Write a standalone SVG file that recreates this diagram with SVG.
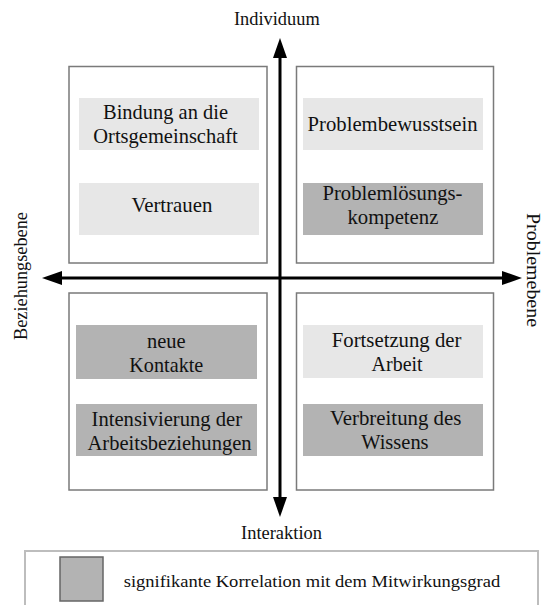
<svg xmlns="http://www.w3.org/2000/svg" width="542" height="605" viewBox="0 0 542 605">
<style>
.quad{fill:#ffffff;stroke:#7a7a7a;stroke-width:1.5}
.light{fill:#e7e7e7}
.dark{fill:#b3b3b3}
.t{font-family:'Liberation Serif','DejaVu Serif','Times New Roman',serif;font-size:21px;fill:#111111}
.ax{font-family:'Liberation Serif','DejaVu Serif','Times New Roman',serif;font-size:18px;fill:#111111}
.lg{font-family:'Liberation Serif','DejaVu Serif','Times New Roman',serif;font-size:17px;fill:#111111}
.axis{stroke:#000000;stroke-width:3;fill:none}
</style>
<defs>
<marker id="arr" viewBox="0 0 20 14" markerWidth="20" markerHeight="14" refX="13" refY="7" orient="auto-start-reverse" markerUnits="userSpaceOnUse">
<path d="M0,0 L20,7 L0,14 z" fill="#000000"/>
</marker>
</defs>
<rect width="542" height="605" fill="#ffffff"/>

<g id="quadrant-tl">
<rect class="quad" x="69" y="66.5" width="198" height="196.5"/>
<g id="node-bindung">
<rect class="light" x="79" y="98" width="180" height="52"/>
<text class="t" x="103" y="119" textLength="125" lengthAdjust="spacingAndGlyphs">Bindung an die</text>
<text class="t" x="93.3" y="143" textLength="144.5" lengthAdjust="spacingAndGlyphs">Ortsgemeinschaft</text>
</g>
<g id="node-vertrauen">
<rect class="light" x="79" y="183" width="180" height="52"/>
<text class="t" x="131.4" y="212" textLength="81" lengthAdjust="spacingAndGlyphs">Vertrauen</text>
</g>
</g>

<g id="quadrant-tr">
<rect class="quad" x="296.5" y="66.5" width="197" height="196.5"/>
<g id="node-problembewusstsein">
<rect class="light" x="303" y="98" width="180" height="52"/>
<text class="t" x="307.6" y="131" textLength="170" lengthAdjust="spacingAndGlyphs">Problembewusstsein</text>
</g>
<g id="node-problemloesung">
<rect class="dark" x="303" y="183" width="180" height="52"/>
<text class="t" x="322.5" y="200" textLength="140" lengthAdjust="spacingAndGlyphs">Problemlösungs-</text>
<text class="t" x="347.4" y="224" textLength="91" lengthAdjust="spacingAndGlyphs">kompetenz</text>
</g>
</g>

<g id="quadrant-bl">
<rect class="quad" x="69" y="293" width="198" height="197"/>
<g id="node-kontakte">
<rect class="dark" x="76" y="325" width="181" height="54"/>
<text class="t" x="146.9" y="347.5" textLength="38.7" lengthAdjust="spacingAndGlyphs">neue</text>
<text class="t" x="129.3" y="371.5" textLength="74" lengthAdjust="spacingAndGlyphs">Kontakte</text>
</g>
<g id="node-intensivierung">
<rect class="dark" x="76" y="404" width="181" height="52"/>
<text class="t" x="91.6" y="426" textLength="150.4" lengthAdjust="spacingAndGlyphs">Intensivierung der</text>
<text class="t" x="87.5" y="450" textLength="164" lengthAdjust="spacingAndGlyphs">Arbeitsbeziehungen</text>
</g>
</g>

<g id="quadrant-br">
<rect class="quad" x="296.5" y="293" width="197" height="197"/>
<g id="node-fortsetzung">
<rect class="light" x="303" y="325" width="180" height="53"/>
<text class="t" x="331.8" y="346.7" textLength="129.6" lengthAdjust="spacingAndGlyphs">Fortsetzung der</text>
<text class="t" x="371.6" y="371" textLength="51" lengthAdjust="spacingAndGlyphs">Arbeit</text>
</g>
<g id="node-verbreitung">
<rect class="dark" x="303" y="404" width="180" height="52"/>
<text class="t" x="330" y="425" textLength="131.4" lengthAdjust="spacingAndGlyphs">Verbreitung des</text>
<text class="t" x="361.2" y="449.3" textLength="67.4" lengthAdjust="spacingAndGlyphs">Wissens</text>
</g>
</g>

<g id="connectors">
<line class="axis" x1="280" y1="45" x2="280" y2="510" marker-start="url(#arr)" marker-end="url(#arr)"/>
<line class="axis" x1="49" y1="278" x2="515" y2="278" marker-start="url(#arr)" marker-end="url(#arr)"/>
</g>

<g id="axis-labels">
<text class="ax" x="234" y="25" textLength="85.7" lengthAdjust="spacingAndGlyphs">Individuum</text>
<text class="ax" x="241" y="539.3" textLength="81" lengthAdjust="spacingAndGlyphs">Interaktion</text>
<text class="ax" transform="translate(27,276) rotate(-90)" text-anchor="middle" textLength="128" lengthAdjust="spacingAndGlyphs">Beziehungsebene</text>
<text class="ax" transform="translate(527,270) rotate(90)" text-anchor="middle" textLength="114" lengthAdjust="spacingAndGlyphs">Problemebene</text>
</g>

<g id="legend">
<rect x="25" y="551" width="513" height="70" fill="none" stroke="#bdbdbd" stroke-width="2"/>
<rect x="60" y="557" width="43" height="44" fill="#b3b3b3" stroke="#666666" stroke-width="1.5"/>
<text class="lg" x="123.7" y="587" textLength="376.5" lengthAdjust="spacingAndGlyphs">signifikante Korrelation mit dem Mitwirkungsgrad</text>
</g>
</svg>
